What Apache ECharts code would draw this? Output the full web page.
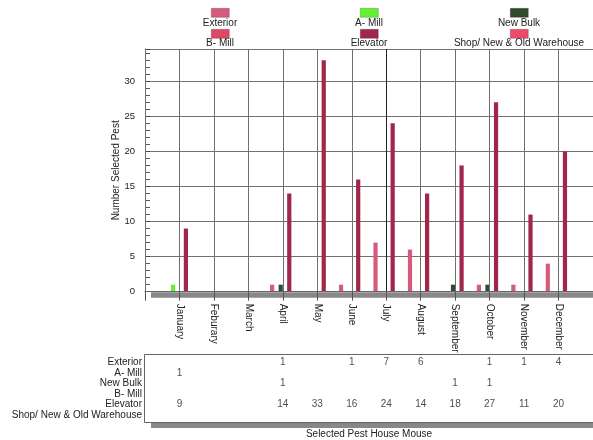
<!DOCTYPE html>
<html><head><meta charset="utf-8">
<script src="https://cdn.jsdelivr.net/npm/echarts@6/dist/echarts.min.js"></script>
<style>html,body{margin:0;padding:0;background:#fff}#c{width:593px;height:440px}</style>
</head><body><div id="c"></div>
<script>
// ---- data ----
const months = ['January','Feburary','March','April','May','June','July','August','September','October','November','December'];
const seriesNames = ['Exterior','A- Mill','New Bulk','B- Mill','Elevator','Shop/ New & Old Warehouse'];
const exterior = [null,null,null,1,null,1,7,6,null,1,1,4];
const aMill    = [1,null,null,null,null,null,null,null,null,null,null,null];
const newBulk  = [null,null,null,1,null,null,null,null,1,1,null,null];
const bMill    = [null,null,null,null,null,null,null,null,null,null,null,null];
const elevator = [9,null,null,14,33,16,24,14,18,27,11,20];
const shop     = [null,null,null,null,null,null,null,null,null,null,null,null];
const yTicks = [0,5,10,15,20,25,30];

// ---- styling ----
const seriesData = [exterior, aMill, newBulk, bMill, elevator, shop];
const colors = ['#d55a7b','#66f033','#2f4a2c','#dd4866','#a0264a','#ec4a6a'];
const FONT = 'Liberation Sans, Arial, sans-serif';
const cats = [''].concat(months, ['']);
const pad = arr => [null].concat(arr, [null]);

const barSeries = seriesNames.map((n, i) => ({
  name: n, type: 'bar', xAxisIndex: 0, yAxisIndex: 0,
  data: pad(seriesData[i]), barWidth: 4.2, barGap: '2%',
  itemStyle: { color: colors[i] }
}));

const tableData = [];
seriesData.forEach((arr, r) => arr.forEach((v, m) => { if (v !== null) tableData.push([m + 1, r, v]); }));

const legendCx = [220, 369, 519];
const legends = [];
seriesNames.forEach((n, i) => {
  const col = i % 3, row = Math.floor(i / 3);
  const cx = legendCx[col];
  const boxTop = row === 0 ? 8 : 29;
  const textMid = row === 0 ? 23.5 : 43.5;
  legends.push({
    data: [n], left: cx - 9, top: boxTop, itemWidth: 18, itemHeight: 9, padding: 0,
    selectedMode: false, formatter: () => '', icon: 'rect',
    itemStyle: { borderColor: 'rgba(0,0,0,0.35)', borderWidth: 0.6 }
  });
  legends.push({
    data: [n], left: cx - 80 - 5, top: textMid - 6, itemWidth: 0, itemHeight: 12, padding: 0,
    selectedMode: false, icon: 'rect', itemStyle: { opacity: 0 },
    formatter: name => '{c|' + name + '}',
    textStyle: { fontFamily: FONT, color: '#222', rich: { c: { width: 160, align: 'center', fontSize: 10, fontFamily: FONT, color: '#222' } } }
  });
});

const xSplitColors = cats.map((c, i) => i === 7 ? '#222' : '#707070');

const option = {
  animation: false,
  textStyle: { fontFamily: FONT },
  legend: legends,
  grid: [
    { left: 145, right: 0, top: 49, bottom: 148.3 },
    { left: 145, right: 0, top: 357, height: 63 }
  ],
  xAxis: [
    { type: 'category', gridIndex: 0, data: cats, boundaryGap: false, z: 3,
      axisLine: { show: true, lineStyle: { color: '#666' } },
      axisTick: { show: true, length: 9, lineStyle: { color: '#555' } },
      axisLabel: { rotate: -90, fontSize: 10, margin: 12, color: '#222', interval: 0, fontFamily: FONT },
      splitLine: { show: true, lineStyle: { color: xSplitColors, width: 1 } } },
    { type: 'category', gridIndex: 1, data: cats, boundaryGap: false,
      axisLine: { show: false }, axisTick: { show: false }, axisLabel: { show: false },
      splitLine: { show: false },
      name: 'Selected Pest House Mouse', nameLocation: 'middle', nameGap: 9,
      nameTextStyle: { fontSize: 10, color: '#222', fontFamily: FONT } }
  ],
  yAxis: [
    { type: 'value', gridIndex: 0, min: yTicks[0], max: 34.6, interval: 5,
      name: 'Number Selected Pest', nameLocation: 'middle', nameGap: 24, nameMoveOverlap: false,
      nameTextStyle: { fontSize: 10, color: '#222', fontFamily: FONT },
      axisLine: { show: true, lineStyle: { color: '#444' } },
      axisTick: { show: true, inside: true, length: 5, lineStyle: { color: '#444' } },
      minorTick: { show: true, splitNumber: 5, length: 5, lineStyle: { color: '#555' } },
      axisLabel: { fontSize: 9.5, margin: 10, color: '#222', showMaxLabel: false, fontFamily: FONT },
      splitLine: { show: true, lineStyle: { color: '#707070', width: 1 } } },
    { type: 'category', gridIndex: 1, data: seriesNames, inverse: true,
      axisLine: { show: false }, axisTick: { show: false }, splitLine: { show: false },
      axisLabel: { fontSize: 10, color: '#222', margin: 3, interval: 0, fontFamily: FONT } }
  ],
  graphic: [
    { type: 'rect', z: 1, shape: { x: 151, y: 292.2, width: 450, height: 5.5 }, style: { fill: '#888' } },
    { type: 'rect', z: 0, shape: { x: 151, y: 423, width: 450, height: 5 }, style: { fill: '#888' } },
    { type: 'rect', z: 1, shape: { x: 144.5, y: 354.5, width: 460, height: 68 }, style: { fill: '#fff', stroke: '#666', lineWidth: 1 } }
  ],
  series: barSeries.concat([{
    type: 'scatter', xAxisIndex: 1, yAxisIndex: 1, data: tableData, z: 5,
    symbol: 'circle', symbolSize: 1, itemStyle: { color: 'rgba(0,0,0,0)' },
    label: { show: true, position: 'inside', formatter: p => String(p.value[2]), fontSize: 10, color: '#222', fontFamily: FONT },
    silent: true
  }])
};
const chart = echarts.init(document.getElementById('c'), null, { renderer: 'canvas' });
chart.setOption(option);
</script></body></html>
